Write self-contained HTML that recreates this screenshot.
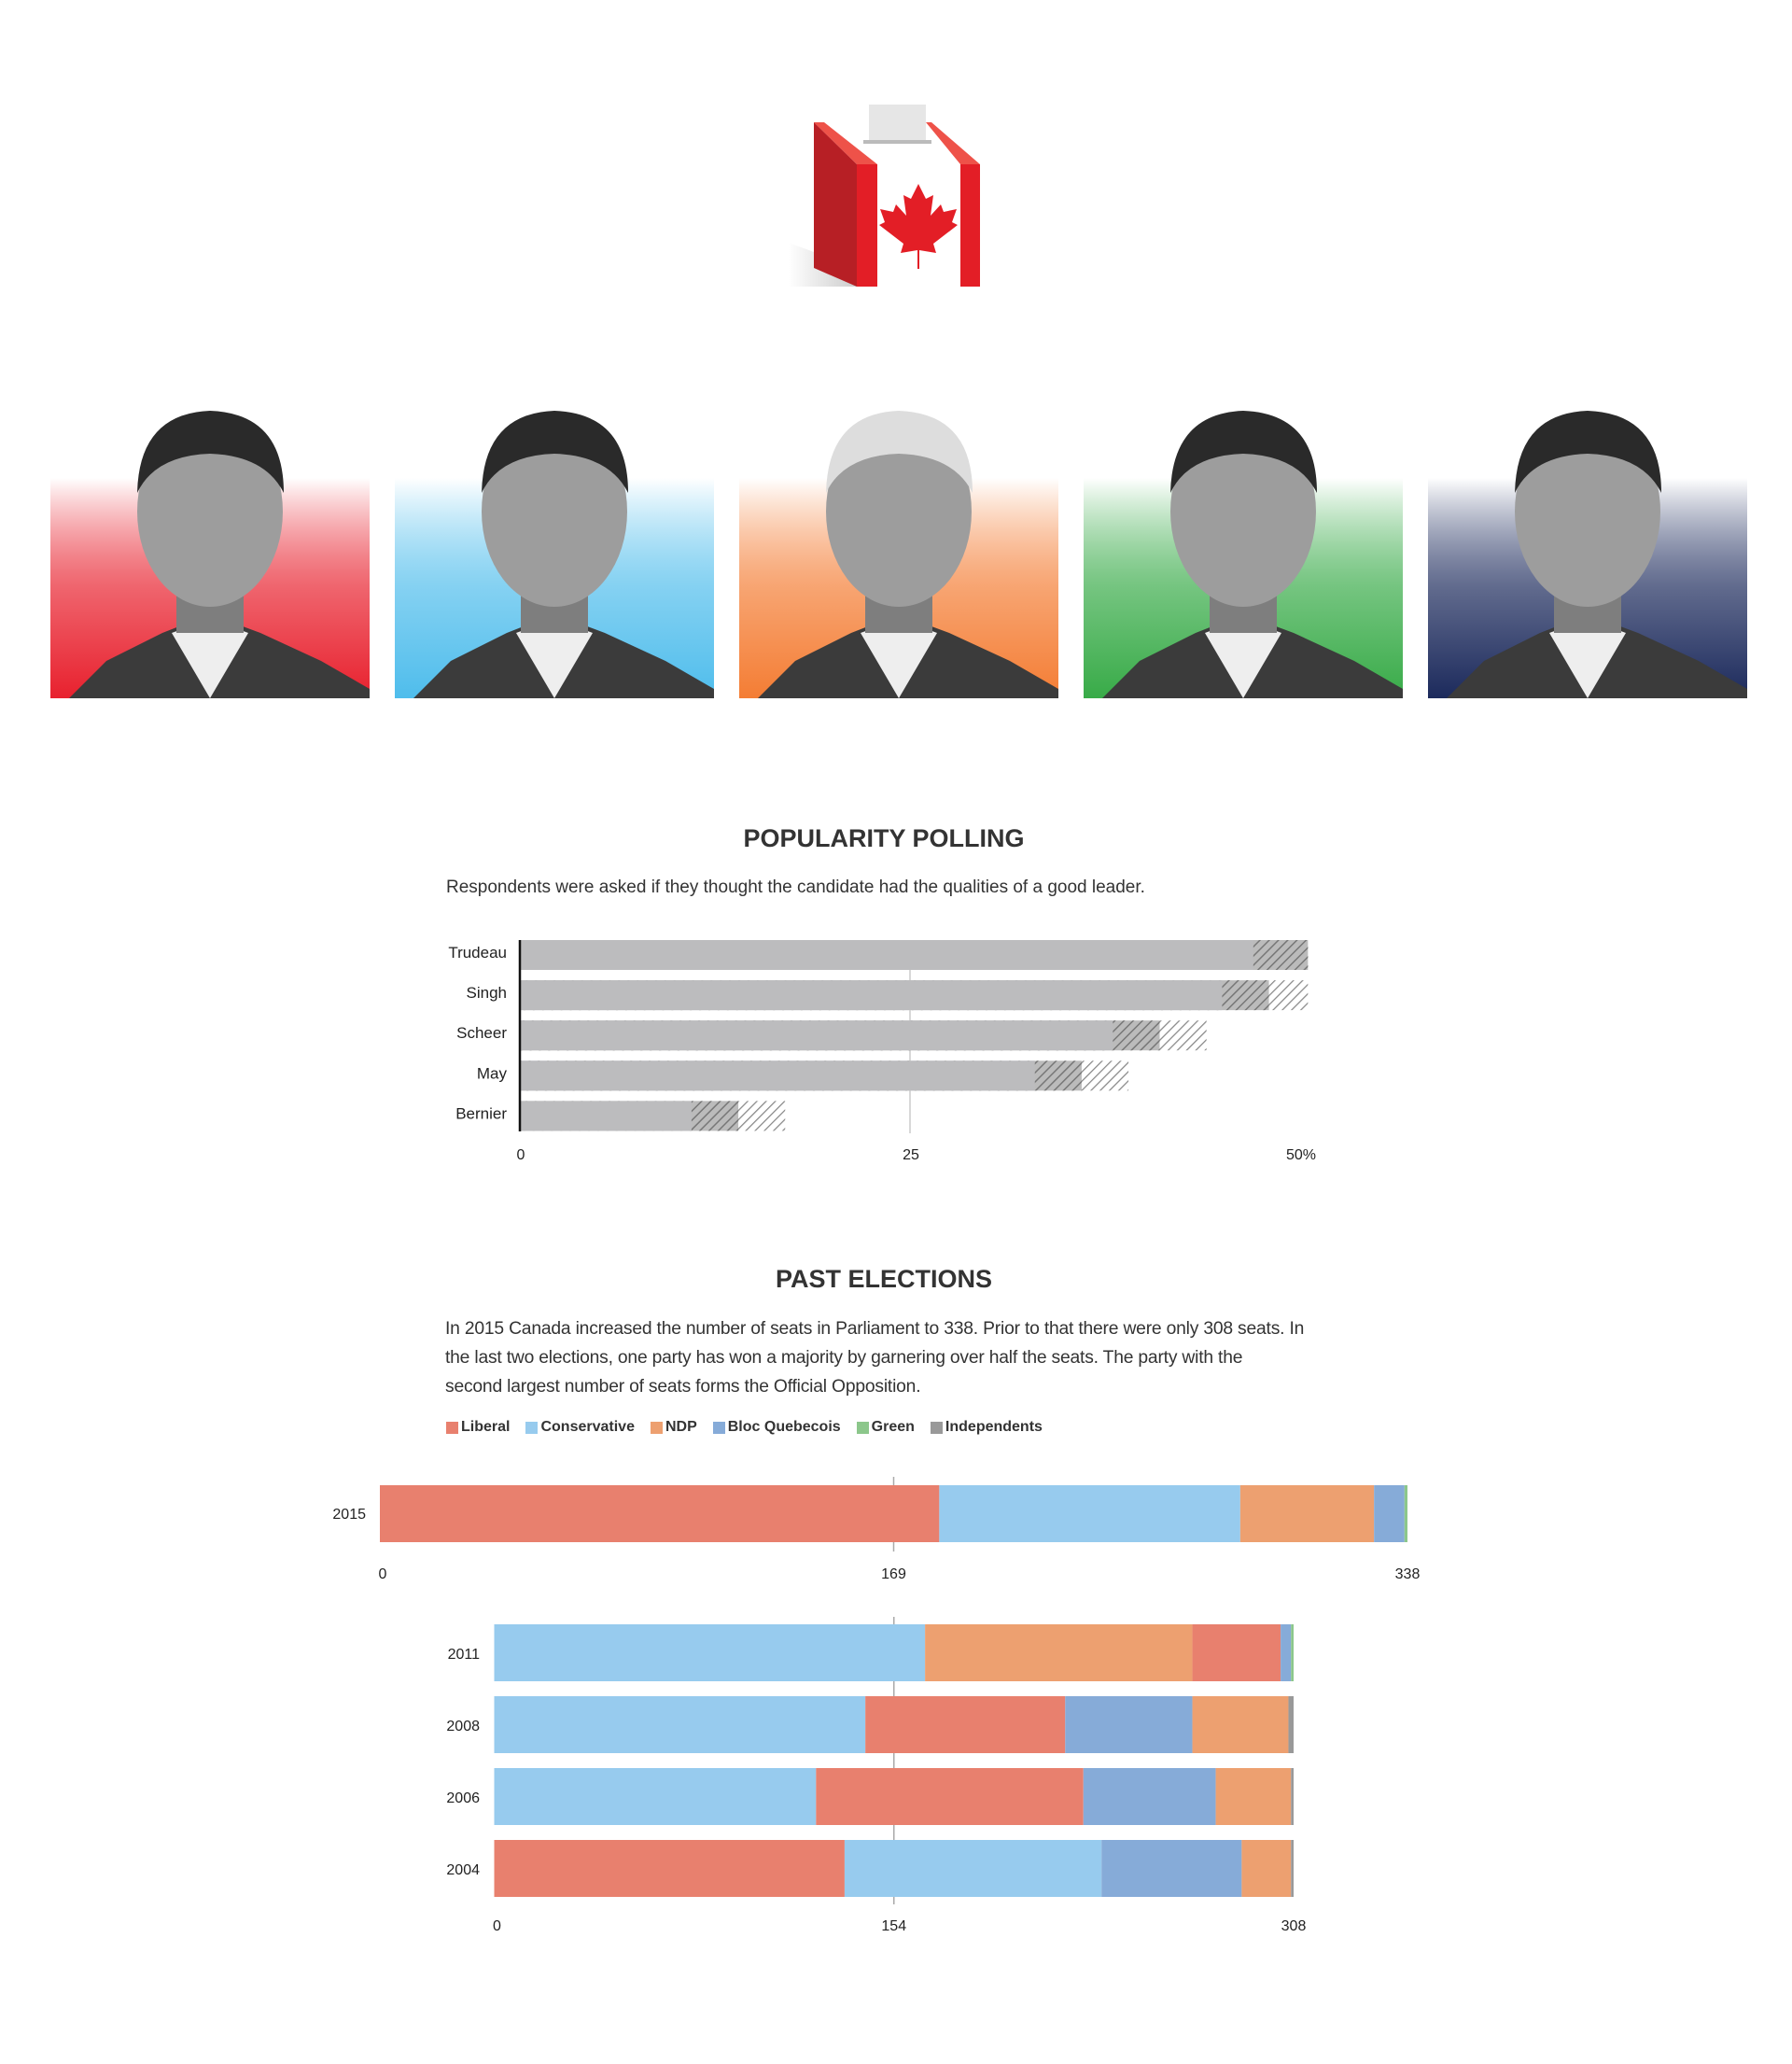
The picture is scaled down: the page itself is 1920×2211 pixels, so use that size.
<!DOCTYPE html>
<html><head><meta charset="utf-8">
<style>
body{margin:0;background:#fff;width:1920px;height:2211px;position:relative;overflow:hidden;font-family:"Liberation Sans",sans-serif;color:#333}
.t{position:absolute;white-space:nowrap}
h2{position:absolute;margin:0;font-size:27px;font-weight:bold;color:#333;text-align:center;width:400px;letter-spacing:0}
</style></head><body>

<svg style="position:absolute;left:830px;top:100px" width="240" height="220" viewBox="830 100 240 220">
<defs><linearGradient id="sh" x1="0" x2="1"><stop offset="0" stop-color="#fff"/><stop offset="1" stop-color="#ccc"/></linearGradient></defs>
<polygon points="845,260 918,287 918,307 845,307" fill="url(#sh)"/>
<rect x="931" y="112" width="61" height="42" fill="#e6e6e6"/>
<rect x="925" y="150" width="73" height="4" fill="#bbb"/>
<polygon points="872,131 883,131 940,176 918,176" fill="#ee5249"/>
<polygon points="872,131 918,176 918,307 872,287" fill="#b71f25"/>
<rect x="918" y="176" width="22" height="131" fill="#e31e26"/>
<rect x="940" y="176" width="89" height="131" fill="#fff"/>
<polygon points="992,131 998,131 1050,176 1029,176" fill="#ee5249"/>
<rect x="1029" y="176" width="21" height="131" fill="#e31e26"/>
<path d="M984,197 l8,16 8,-4 -3,22 11,-12 3,8 14,-3 -5,14 6,3 -26,20 3,10 -18,-3 v20 h-2 v-20 l-18,3 3,-10 -26,-20 6,-3 -5,-14 14,3 3,-8 11,12 -3,-22 8,4z" fill="#e31e26"/>
</svg>

<div id="photos"></div>

<h2 style="left:747px;top:883px">POPULARITY POLLING</h2>
<div class="t" style="left:478px;top:940px;font-size:19px">Respondents were asked if they thought the candidate had the qualities of a good leader.</div>
<svg id="poll" style="position:absolute;left:0;top:980px" width="1920" height="290"></svg>

<h2 style="left:747px;top:1355px">PAST ELECTIONS</h2>
<div style="position:absolute;left:477px;top:1408px;white-space:nowrap;font-size:19.3px;letter-spacing:-0.2px;line-height:31px">In 2015 Canada increased the number of seats in Parliament to 338. Prior to that there were only 308 seats. In<br>the last two elections, one party has won a majority by garnering over half the seats. The party with the<br>second largest number of seats forms the Official Opposition.</div>
<div id="legend" style="position:absolute;left:478px;top:1520px;font-size:16px;font-weight:bold;display:flex;gap:17px"></div>
<svg id="elec" style="position:absolute;left:0;top:1560px" width="1920" height="540"></svg>

<script>
// ---- polling data
const pollNames=["Trudeau","Singh","Scheer","May","Bernier"];
const pollValues=[47,45,38,33,11];
const pollMid=[50.5,48,41,36,14];
const pollHigh=[50.5,50.5,44,39,17];
const pollTicks=["0","25","50%"];
const pollTickVals=[0,25,50];
// ---- election data
const parties=["Liberal","Conservative","NDP","Bloc Quebecois","Green","Independents"];
const partyColors=["#e8806e","#97cbee","#eda070","#86abd8","#8cc78b","#999"];
const y2015=[184,99,44,10,1,0];
const years=["2011","2008","2006","2004"];
const orders=[[1,2,0,3,4,5],[1,0,3,2,5,4],[1,0,3,2,5,4],[0,1,3,2,5,4]];
const seats2011=[34,166,103,4,1,0];
const seats2008=[77,143,37,49,0,2];
const seats2006=[103,124,29,51,0,1];
const seats2004=[135,99,19,54,0,1];
const seatsByYear=[seats2011,seats2008,seats2006,seats2004];

const NS="http://www.w3.org/2000/svg";
function mk(parent,tag,attrs){const e=document.createElementNS(NS,tag);for(const k in attrs)e.setAttribute(k,attrs[k]);parent.appendChild(e);return e;}

// photos
const ph=document.getElementById('photos');
const panelX=[54,423,792,1161,1530];
const panelCol=["#e8212e","#4fbdec","#f47d34","#38ab48","#1c2a5c"];
panelX.forEach((x,i)=>{
  const s=document.createElementNS(NS,'svg');
  
  
  s.setAttribute('width','342');s.setAttribute('height','340');
  s.style.cssText='position:absolute;left:'+x+'px;top:408px';
  s.innerHTML='<defs><linearGradient id="g'+i+'" x1="0" y1="0" x2="0" y2="1"><stop offset="0" stop-color="#fff"/><stop offset="0.5" stop-color="'+panelCol[i]+'" stop-opacity="0.7"/><stop offset="1" stop-color="'+panelCol[i]+'"/></linearGradient></defs>'+
  '<rect x="0" y="104" width="342" height="236" fill="url(#g'+i+')"/>'+
  '<path d="M20,340 L60,300 L120,270 L171,250 L225,270 L290,300 L342,330 L342,340Z" fill="#3b3b3b"/>'+
  '<path d="M130,270 L171,340 L212,270 L171,255Z" fill="#eee"/>'+
  '<rect x="135" y="180" width="72" height="90" fill="#7e7e7e"/>'+
  '<ellipse cx="171" cy="140" rx="78" ry="102" fill="#9d9d9d"/>'+
  '<path d="M93,120 Q95,35 171,32 Q250,35 250,120 Q230,80 171,78 Q112,80 93,120Z" fill="'+(i==2?'#ddd':'#2a2a2a')+'"/>';
  ph.appendChild(s);
});

// polling chart (top offset 980)
const poll=document.getElementById('poll');
const px=v=>557+v*(975-557)/25;
const defs=mk(poll,'defs',{});
defs.innerHTML='<pattern id="hd" width="7" height="7" patternUnits="userSpaceOnUse" patternTransform="rotate(45)"><rect width="7" height="7" fill="#bbb"/><line x1="0" y1="0" x2="0" y2="7" stroke="#777" stroke-width="3"/></pattern><pattern id="hl" width="7" height="7" patternUnits="userSpaceOnUse" patternTransform="rotate(45)"><rect width="7" height="7" fill="#fff"/><line x1="0" y1="0" x2="0" y2="7" stroke="#888" stroke-width="2.5"/></pattern>';
const gl=mk(poll,'line',{x1:px(25),x2:px(25),y1:27,y2:234,stroke:'#ccc','stroke-width':1.5});


pollNames.forEach((n,i)=>{
  const y=27+i*43.1;
  const hb=mk(poll,'rect',{x:px(0),y:y,width:px(pollHigh[i])-px(0),height:32,fill:'url(#hl)'});
  
  
  const mb=mk(poll,'rect',{x:px(0),y:y,width:px(pollMid[i])-px(0),height:32,fill:'url(#hd)'});
  
  
  const b=mk(poll,'rect',{x:px(0),y:y,width:px(pollValues[i])-px(0),height:32,fill:'#bcbcbe'});
  
  
  const t=mk(poll,'text',{x:543,y:y+19,'text-anchor':'end','font-size':17,fill:'#222'});
  t.textContent=n;
  
  
});
const ax=mk(poll,'line',{x1:px(0),x2:px(0),y1:27,y2:232,stroke:'#111','stroke-width':2.5});


pollTickVals.forEach((v,i)=>{
  const t=mk(poll,'text',{x:px(v)+1,y:262,'text-anchor':'middle','font-size':16,fill:'#222'});
  t.textContent=pollTicks[i];
  
  
});

// legend
const lg=document.getElementById('legend');
parties.forEach((p,i)=>{
  const d=document.createElement('span');
  
  
  d.style.cssText='display:flex;align-items:center;gap:3px;color:#333';
  d.innerHTML='<span style="width:13px;height:13px;background:'+partyColors[i]+';display:inline-block"></span>'+p;
  lg.appendChild(d);
});

// elections (top offset 1560)
const el=document.getElementById('elec');
const ex1=v=>407+v*(1508-407)/338;
const ex2=v=>529.5+v*(1386-529.5)/308;
function stack(vals,order,xf,y,name){
  let acc=0;
  order.forEach(k=>{
    if(!vals[k])return;
    const r=mk(el,'rect',{x:xf(acc),y:y,width:xf(acc+vals[k])-xf(acc),height:61,fill:partyColors[k]});
    
    
    acc+=vals[k];
  });
}
function txt(x,y,s,name,anchor){const t=mk(el,'text',{x:x,y:y,'text-anchor':anchor||'middle','font-size':16,fill:'#222'});t.textContent=s;}
const g1=mk(el,'line',{x1:ex1(169),x2:ex1(169),y1:22,y2:102,stroke:'#aaa','stroke-width':1.5});


stack(y2015,[0,1,2,3,4,5],ex1,31,'2015');
txt(392,67,'2015','year-label-2015','end');
[0,169,338].forEach(v=>txt(ex1(v)+(v==0?3:0),131,String(v),'tick-'+v));
const g2=mk(el,'line',{x1:ex2(154),x2:ex2(154),y1:172,y2:480,stroke:'#aaa','stroke-width':1.5});


years.forEach((yr,i)=>{
  const y=180+i*77;
  stack(seatsByYear[i],orders[i],ex2,y,yr);
  txt(514,y+37,yr,'year-label-'+yr,'end');
});
[0,154,308].forEach(v=>txt(ex2(v)+(v==0?3:0),508,String(v),'tick2-'+v));
</script>
</body></html>
